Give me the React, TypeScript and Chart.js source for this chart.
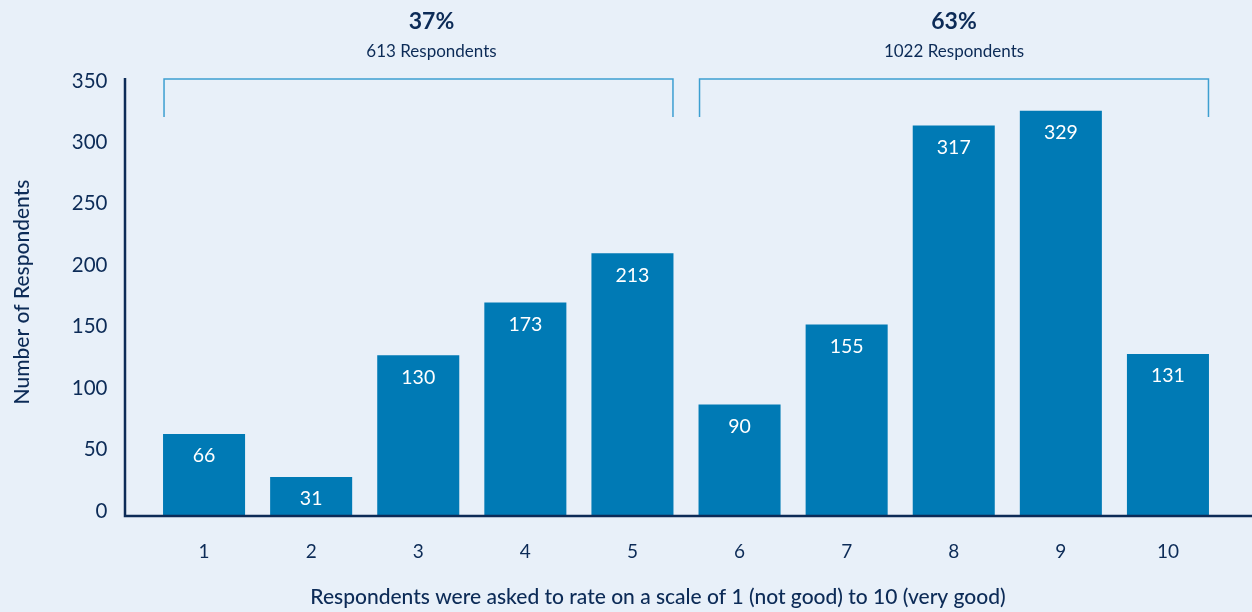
import React, { useEffect, useRef } from "react";
import { Chart, registerables } from "chart.js";

Chart.register(...registerables);

const categories = ["1", "2", "3", "4", "5", "6", "7", "8", "9", "10"];
const respondents = [66, 31, 130, 173, 213, 90, 155, 317, 329, 131];
const groupPercents = ["37%", "63%"];
const groupCounts = ["613 Respondents", "1022 Respondents"];
const groupRanges = [
  [0, 4],
  [5, 9],
];
const yTitle = "Number of Respondents";
const xTitle = "Respondents were asked to rate on a scale of 1 (not good) to 10 (very good)";

const NAVY = "#0c2b57";
const BAR = "#007ab5";
const BRACKET = "#3d9fd1";
const BG = "#e8f0f9";
const FONT = "Lato, 'Open Sans', sans-serif";

const overlayPlugin = {
  id: "overlay",
  afterDatasetsDraw(chart: any) {
    const ctx = chart.ctx;
    const area = chart.chartArea;
    const meta = chart.getDatasetMeta(0);
    const bars = meta.data;
    ctx.save();
    // data labels
    ctx.fillStyle = "#ffffff";
    ctx.font = `19.5px ${FONT}`;
    ctx.textAlign = "center";
    ctx.textBaseline = "middle";
    bars.forEach((b: any, i: number) => {
      ctx.fillText(String(respondents[i]), b.x, b.y + 22);
    });
    // axis lines
    const yScale = chart.scales.y;
    const axisX = 125;
    ctx.strokeStyle = NAVY;
    ctx.lineWidth = 2.5;
    ctx.beginPath();
    ctx.moveTo(axisX, yScale.getPixelForValue(350) - 7);
    ctx.lineTo(axisX, area.bottom + 1);
    ctx.lineTo(chart.width, area.bottom + 1);
    ctx.stroke();
    // brackets
    ctx.strokeStyle = BRACKET;
    ctx.lineWidth = 1.5;
    const topY = 79;
    const botY = 117;
    groupRanges.forEach((r, gi) => {
      const b0 = bars[r[0]];
      const b1 = bars[r[1]];
      const x0 = b0.x - b0.width / 2 + 1;
      const x1 = b1.x + b1.width / 2 - 0.5;
      ctx.beginPath();
      ctx.moveTo(x0, botY);
      ctx.lineTo(x0, topY);
      ctx.lineTo(x1, topY);
      ctx.lineTo(x1, botY);
      ctx.stroke();
      const cx = gi === 0 ? (x0 + x1) / 2 + 13 : (x0 + x1) / 2;
      ctx.fillStyle = NAVY;
      ctx.textAlign = "center";
      ctx.textBaseline = "middle";
      ctx.font = `bold 23px ${FONT}`;
      ctx.fillText(groupPercents[gi], cx, 22);
      ctx.font = `17px ${FONT}`;
      ctx.fillText(groupCounts[gi], cx, 52);
    });
    // titles
    ctx.fillStyle = NAVY;
    ctx.font = `500 21px ${FONT}`;
    ctx.textAlign = "center";
    ctx.textBaseline = "middle";
    ctx.fillText(xTitle, 658, 597);
    ctx.save();
    ctx.translate(22, 292);
    ctx.rotate(-Math.PI / 2);
    ctx.font = `500 21px ${FONT}`;
    ctx.fillText(yTitle, 0, 0);
    ctx.restore();
    ctx.restore();
  },
};

export default function App() {
  const ref = useRef<HTMLCanvasElement>(null);
  useEffect(() => {
    if (!ref.current) return;
    const chart = new Chart(ref.current, {
      type: "bar",
      data: {
        labels: categories,
        datasets: [
          {
            data: respondents,
            backgroundColor: BAR,
            borderWidth: 0,
            barPercentage: 0.766,
            categoryPercentage: 1,
          },
        ],
      },
      options: {
        responsive: false,
        animation: false,
        layout: { padding: { top: 85, right: 30.5, left: 0, bottom: 0 } },
        plugins: {
          legend: { display: false },
          tooltip: { enabled: false },
        },
        scales: {
          x: {
            grid: { display: false, drawTicks: false },
            border: { display: false },
            ticks: {
              color: NAVY,
              font: { family: FONT, size: 19 },
              padding: 25,
            },
            afterFit: (s: any) => {
              s.height = 97;
            },
          },
          y: {
            min: 0,
            max: 350,
            grid: { display: false, drawTicks: false },
            border: { display: false },
            ticks: {
              stepSize: 50,
              color: NAVY,
              font: { family: FONT, size: 20.5 },
              padding: 43,
              labelOffset: -4,
            },
            afterFit: (s: any) => {
              s.width = 150.5;
            },
          },
        },
      },
      plugins: [overlayPlugin],
    });
    return () => chart.destroy();
  }, []);
  return (
    <div
      style={{
        position: "fixed",
        left: 0,
        top: 0,
        width: 1252,
        height: 612,
        background: BG,
      }}
    >
      <canvas ref={ref} width={1252} height={612} style={{ display: "block" }} />
    </div>
  );
}
